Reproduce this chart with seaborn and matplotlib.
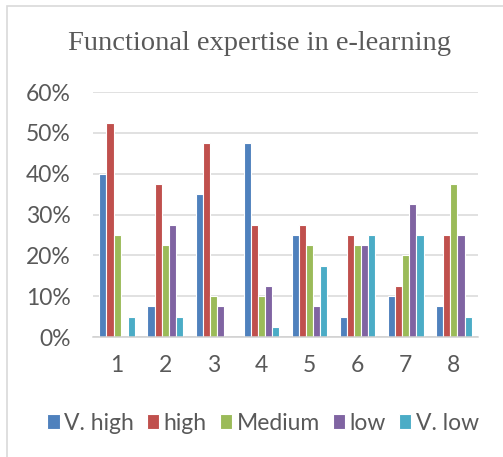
import matplotlib
matplotlib.use("Agg")
import matplotlib.pyplot as plt
from matplotlib.patches import Rectangle
import seaborn as sns
import pandas as pd

# Survey results: share of respondents per expertise level, for each item
items = ["1", "2", "3", "4", "5", "6", "7", "8"]
levels = ["V. high", "high", "Medium", "low", "V. low"]
v_high = [40.0, 7.5, 35.0, 47.5, 25.0, 5.0, 10.0, 7.5]
high = [52.5, 37.5, 47.5, 27.5, 27.5, 25.0, 12.5, 25.0]
medium = [25.0, 22.5, 10.0, 10.0, 22.5, 22.5, 20.0, 37.5]
low = [0.0, 27.5, 7.5, 12.5, 7.5, 22.5, 32.5, 25.0]
v_low = [5.0, 5.0, 0.0, 2.5, 17.5, 25.0, 25.0, 5.0]
yticks = [0, 10, 20, 30, 40, 50, 60]

palette = ["#4F81BD", "#C0504D", "#9BBB59", "#8064A2", "#4BACC6"]

series = [v_high, high, medium, low, v_low]
rows = []
for level, vals in zip(levels, series):
    for item, v in zip(items, vals):
        rows.append({"item": item, "level": level, "pct": v})
df = pd.DataFrame(rows)

sns.set_theme(style="white")
plt.rcParams["font.family"] = ["Lato", "DejaVu Sans"]

W, H = 503, 457
fig = plt.figure(figsize=(W / 100, H / 100), dpi=100)
fig.patch.set_facecolor("white")

# light chart-area frame
fig.patches.append(Rectangle((7 / W, -0.05), 1.2, 1 - 6 / H + 0.05,
                             transform=fig.transFigure, fill=False,
                             edgecolor="#d9d9d9", linewidth=1.2, zorder=0))

ax = fig.add_axes([93 / W, (H - 337) / H, 385 / W, 245 / H])
sns.barplot(data=df, x="item", y="pct", hue="level", order=items,
            hue_order=levels, palette=palette, width=0.74, saturation=1,
            edgecolor="white", linewidth=0.8, ax=ax, legend=True)

ax.set_ylim(0, 60)
ax.set_yticks(yticks)
ax.set_yticklabels([f"{t}%" for t in yticks])
ax.yaxis.grid(True, color="#d9d9d9", linewidth=1.1)
ax.set_axisbelow(True)
for s in ["left", "right", "top"]:
    ax.spines[s].set_visible(False)
ax.spines["bottom"].set_color("#d0d0d0")
ax.spines["bottom"].set_linewidth(1.1)
ax.tick_params(axis="y", length=0, pad=16, labelsize=16.5, labelcolor="#595959")
ax.tick_params(axis="x", length=0, pad=13, labelsize=16.5, labelcolor="#595959")
ax.set_xlabel("")
ax.set_ylabel("")

handles, labels = ax.get_legend_handles_labels()
ax.get_legend().remove()
fig.legend(handles, labels, loc="center", bbox_to_anchor=(263 / W, 1 - 423 / H),
           ncol=5, frameon=False, fontsize=16.5, labelcolor="#595959",
           handlelength=0.55, handleheight=0.6, handletextpad=0.2,
           columnspacing=0.55, borderaxespad=0)

fig.text(259 / W, 1 - 44 / H, "Functional expertise in e-learning",
         ha="center", va="center", fontsize=20.5, color="#595959",
         family=["Liberation Serif", "DejaVu Serif"])

fig.savefig("out.png", dpi=100)
